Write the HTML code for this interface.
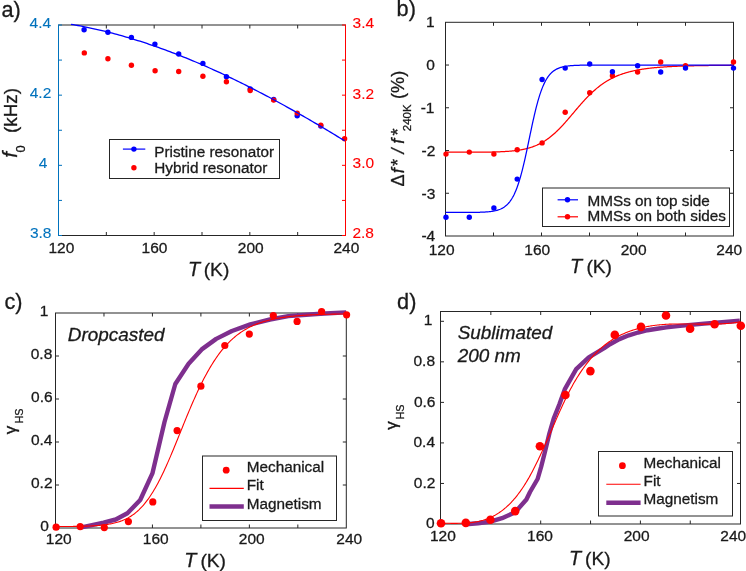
<!DOCTYPE html>
<html><head><meta charset="utf-8"><style>
html,body{margin:0;padding:0;background:#fff;overflow:hidden}
svg{display:block;font-family:"Liberation Sans",sans-serif;will-change:transform}
</style></head><body>
<svg width="746" height="571" viewBox="0 0 746 571">
<rect width="746" height="571" fill="#fff"/>
<text x="1.38" y="16.50" font-size="21.7" text-anchor="start" fill="#1a1a1a" stroke="#1a1a1a" stroke-width="0.3" >a)</text>
<line x1="106.33" y1="235.50" x2="106.33" y2="232.00" stroke="#262626" stroke-width="1" />
<line x1="106.33" y1="25.00" x2="106.33" y2="28.50" stroke="#262626" stroke-width="1" />
<line x1="154.17" y1="235.50" x2="154.17" y2="232.00" stroke="#262626" stroke-width="1" />
<line x1="154.17" y1="25.00" x2="154.17" y2="28.50" stroke="#262626" stroke-width="1" />
<line x1="202.00" y1="235.50" x2="202.00" y2="232.00" stroke="#262626" stroke-width="1" />
<line x1="202.00" y1="25.00" x2="202.00" y2="28.50" stroke="#262626" stroke-width="1" />
<line x1="249.83" y1="235.50" x2="249.83" y2="232.00" stroke="#262626" stroke-width="1" />
<line x1="249.83" y1="25.00" x2="249.83" y2="28.50" stroke="#262626" stroke-width="1" />
<line x1="297.67" y1="235.50" x2="297.67" y2="232.00" stroke="#262626" stroke-width="1" />
<line x1="297.67" y1="25.00" x2="297.67" y2="28.50" stroke="#262626" stroke-width="1" />
<line x1="58.50" y1="25.00" x2="345.50" y2="25.00" stroke="#262626" stroke-width="1.0" />
<line x1="58.50" y1="235.50" x2="345.50" y2="235.50" stroke="#262626" stroke-width="1.0" />
<line x1="58.50" y1="235.50" x2="62.00" y2="235.50" stroke="#0072BD" stroke-width="1" />
<line x1="345.50" y1="235.50" x2="342.00" y2="235.50" stroke="#FF0000" stroke-width="1" />
<line x1="58.50" y1="200.42" x2="62.00" y2="200.42" stroke="#0072BD" stroke-width="1" />
<line x1="345.50" y1="200.42" x2="342.00" y2="200.42" stroke="#FF0000" stroke-width="1" />
<line x1="58.50" y1="165.33" x2="62.00" y2="165.33" stroke="#0072BD" stroke-width="1" />
<line x1="345.50" y1="165.33" x2="342.00" y2="165.33" stroke="#FF0000" stroke-width="1" />
<line x1="58.50" y1="130.25" x2="62.00" y2="130.25" stroke="#0072BD" stroke-width="1" />
<line x1="345.50" y1="130.25" x2="342.00" y2="130.25" stroke="#FF0000" stroke-width="1" />
<line x1="58.50" y1="95.17" x2="62.00" y2="95.17" stroke="#0072BD" stroke-width="1" />
<line x1="345.50" y1="95.17" x2="342.00" y2="95.17" stroke="#FF0000" stroke-width="1" />
<line x1="58.50" y1="60.08" x2="62.00" y2="60.08" stroke="#0072BD" stroke-width="1" />
<line x1="345.50" y1="60.08" x2="342.00" y2="60.08" stroke="#FF0000" stroke-width="1" />
<line x1="58.50" y1="25.00" x2="62.00" y2="25.00" stroke="#0072BD" stroke-width="1" />
<line x1="345.50" y1="25.00" x2="342.00" y2="25.00" stroke="#FF0000" stroke-width="1" />
<line x1="58.50" y1="24.50" x2="58.50" y2="236.00" stroke="#0072BD" stroke-width="1.0" />
<line x1="345.50" y1="24.50" x2="345.50" y2="236.00" stroke="#FF0000" stroke-width="1.0" />
<text x="51.15" y="27.80" font-size="15.5" text-anchor="end" fill="#0072BD" stroke="#0072BD" stroke-width="0.1" >4.4</text>
<text x="51.28" y="98.00" font-size="15.5" text-anchor="end" fill="#0072BD" stroke="#0072BD" stroke-width="0.1" >4.2</text>
<text x="47.45" y="168.00" font-size="15.5" text-anchor="end" fill="#0072BD" stroke="#0072BD" stroke-width="0.1" >4</text>
<text x="51.47" y="238.40" font-size="15.5" text-anchor="end" fill="#0072BD" stroke="#0072BD" stroke-width="0.1" >3.8</text>
<text x="352.61" y="28.00" font-size="15.5" text-anchor="start" fill="#FF0000" stroke="#FF0000" stroke-width="0.1" >3.4</text>
<text x="352.61" y="98.50" font-size="15.5" text-anchor="start" fill="#FF0000" stroke="#FF0000" stroke-width="0.1" >3.2</text>
<text x="352.61" y="168.20" font-size="15.5" text-anchor="start" fill="#FF0000" stroke="#FF0000" stroke-width="0.1" >3.0</text>
<text x="352.42" y="238.40" font-size="15.5" text-anchor="start" fill="#FF0000" stroke="#FF0000" stroke-width="0.1" >2.8</text>
<text x="61.41" y="253.30" font-size="15.5" text-anchor="middle" fill="#1a1a1a" stroke="#1a1a1a" stroke-width="0.3" >120</text>
<text x="154.51" y="253.30" font-size="15.5" text-anchor="middle" fill="#1a1a1a" stroke="#1a1a1a" stroke-width="0.3" >160</text>
<text x="250.71" y="253.30" font-size="15.5" text-anchor="middle" fill="#1a1a1a" stroke="#1a1a1a" stroke-width="0.3" >200</text>
<text x="346.41" y="253.30" font-size="15.5" text-anchor="middle" fill="#1a1a1a" stroke="#1a1a1a" stroke-width="0.3" >240</text>
<text x="187.92" y="275.90" font-size="19.8" text-anchor="start" fill="#1a1a1a" stroke="#1a1a1a" stroke-width="0.3" font-style="italic" >T</text>
<text x="203.71" y="275.90" font-size="19.2" text-anchor="start" fill="#1a1a1a" stroke="#1a1a1a" stroke-width="0.3" >(K)</text>
<text transform="translate(16.60,157.81) rotate(-90)" x="0" y="0" font-size="21" fill="#1a1a1a" stroke="#1a1a1a" stroke-width="0.3" font-style="italic">f</text>
<text transform="translate(24.70,152.61) rotate(-90)" x="0" y="0" font-size="13" fill="#1a1a1a" stroke="#1a1a1a" stroke-width="0.3">0</text>
<text transform="translate(16.80,133.07) rotate(-90)" x="0" y="0" font-size="18.9" fill="#1a1a1a" stroke="#1a1a1a" stroke-width="0.3">(kHz)</text>
<circle cx="84.10" cy="29.70" r="2.7" fill="#0000FF"/>
<circle cx="107.90" cy="32.20" r="2.7" fill="#0000FF"/>
<circle cx="131.40" cy="37.40" r="2.7" fill="#0000FF"/>
<circle cx="154.90" cy="44.10" r="2.7" fill="#0000FF"/>
<circle cx="178.70" cy="54.00" r="2.7" fill="#0000FF"/>
<circle cx="202.90" cy="63.40" r="2.7" fill="#0000FF"/>
<circle cx="226.40" cy="76.70" r="2.7" fill="#0000FF"/>
<circle cx="250.20" cy="89.00" r="2.7" fill="#0000FF"/>
<circle cx="273.70" cy="99.50" r="2.7" fill="#0000FF"/>
<circle cx="297.20" cy="115.80" r="2.7" fill="#0000FF"/>
<circle cx="320.80" cy="126.00" r="2.7" fill="#0000FF"/>
<circle cx="84.30" cy="52.90" r="2.7" fill="#FF0000"/>
<circle cx="107.90" cy="58.80" r="2.7" fill="#FF0000"/>
<circle cx="131.40" cy="65.20" r="2.7" fill="#FF0000"/>
<circle cx="155.10" cy="70.70" r="2.7" fill="#FF0000"/>
<circle cx="178.70" cy="71.50" r="2.7" fill="#FF0000"/>
<circle cx="202.90" cy="76.30" r="2.7" fill="#FF0000"/>
<circle cx="226.40" cy="81.80" r="2.7" fill="#FF0000"/>
<circle cx="250.20" cy="90.50" r="2.7" fill="#FF0000"/>
<circle cx="273.70" cy="100.10" r="2.7" fill="#FF0000"/>
<circle cx="297.20" cy="113.10" r="2.7" fill="#FF0000"/>
<circle cx="320.80" cy="125.10" r="2.7" fill="#FF0000"/>
<circle cx="344.60" cy="138.80" r="2.7" fill="#FF0000"/>
<polyline points="71.00,24.29 73.30,24.69 75.60,25.09 77.90,25.51 80.20,25.94 82.50,26.38 84.79,26.83 87.09,27.30 89.39,27.78 91.69,28.27 93.99,28.77 96.29,29.28 98.59,29.81 100.89,30.35 103.19,30.90 105.49,31.46 107.79,32.03 110.09,32.62 112.38,33.21 114.68,33.82 116.98,34.44 119.28,35.07 121.58,35.71 123.88,36.36 126.18,37.03 128.48,37.70 130.78,38.39 133.08,39.08 135.38,39.79 137.68,40.51 139.97,41.24 142.27,41.98 144.57,42.73 146.87,43.49 149.17,44.26 151.47,45.04 153.77,45.83 156.07,46.63 158.37,47.45 160.67,48.27 162.97,49.10 165.27,49.94 167.56,50.79 169.86,51.66 172.16,52.53 174.46,53.41 176.76,54.30 179.06,55.20 181.36,56.11 183.66,57.03 185.96,57.96 188.26,58.89 190.56,59.84 192.86,60.80 195.15,61.76 197.45,62.74 199.75,63.72 202.05,64.71 204.35,65.71 206.65,66.72 208.95,67.74 211.25,68.77 213.55,69.80 215.85,70.85 218.15,71.90 220.45,72.96 222.74,74.03 225.04,75.11 227.34,76.19 229.64,77.29 231.94,78.39 234.24,79.50 236.54,80.61 238.84,81.74 241.14,82.87 243.44,84.01 245.74,85.16 248.04,86.32 250.33,87.48 252.63,88.65 254.93,89.83 257.23,91.01 259.53,92.21 261.83,93.41 264.13,94.61 266.43,95.83 268.73,97.05 271.03,98.28 273.33,99.51 275.63,100.75 277.92,102.00 280.22,103.25 282.52,104.51 284.82,105.78 287.12,107.06 289.42,108.34 291.72,109.62 294.02,110.92 296.32,112.21 298.62,113.52 300.92,114.83 303.22,116.15 305.51,117.47 307.81,118.80 310.11,120.13 312.41,121.47 314.71,122.82 317.01,124.17 319.31,125.53 321.61,126.89 323.91,128.26 326.21,129.63 328.51,131.01 330.81,132.39 333.10,133.78 335.40,135.17 337.70,136.57 340.00,137.97 342.30,139.38 344.60,140.79" fill="none" stroke="#0000FF" stroke-width="1.3" stroke-linejoin="round" stroke-linecap="butt" />
<rect x="109.5" y="139.5" width="170" height="39" fill="#fff" stroke="#262626" stroke-width="1"/>
<line x1="122.90" y1="149.10" x2="145.30" y2="149.10" stroke="#0000FF" stroke-width="1.2" />
<circle cx="133.90" cy="149.10" r="2.7" fill="#0000FF"/>
<circle cx="133.90" cy="167.70" r="2.7" fill="#FF0000"/>
<text x="154.24" y="156.70" font-size="15.3" text-anchor="start" fill="#1a1a1a" stroke="#1a1a1a" stroke-width="0.3" >Pristine resonator</text>
<text x="154.24" y="172.50" font-size="15.3" text-anchor="start" fill="#1a1a1a" stroke="#1a1a1a" stroke-width="0.3" >Hybrid resonator</text>
<text x="396.60" y="16.10" font-size="21.7" text-anchor="start" fill="#1a1a1a" stroke="#1a1a1a" stroke-width="0.3" >b)</text>
<line x1="493.50" y1="236.00" x2="493.50" y2="232.50" stroke="#262626" stroke-width="1" />
<line x1="493.50" y1="22.30" x2="493.50" y2="25.80" stroke="#262626" stroke-width="1" />
<line x1="541.50" y1="236.00" x2="541.50" y2="232.50" stroke="#262626" stroke-width="1" />
<line x1="541.50" y1="22.30" x2="541.50" y2="25.80" stroke="#262626" stroke-width="1" />
<line x1="589.50" y1="236.00" x2="589.50" y2="232.50" stroke="#262626" stroke-width="1" />
<line x1="589.50" y1="22.30" x2="589.50" y2="25.80" stroke="#262626" stroke-width="1" />
<line x1="637.50" y1="236.00" x2="637.50" y2="232.50" stroke="#262626" stroke-width="1" />
<line x1="637.50" y1="22.30" x2="637.50" y2="25.80" stroke="#262626" stroke-width="1" />
<line x1="685.50" y1="236.00" x2="685.50" y2="232.50" stroke="#262626" stroke-width="1" />
<line x1="685.50" y1="22.30" x2="685.50" y2="25.80" stroke="#262626" stroke-width="1" />
<line x1="445.50" y1="65.04" x2="449.00" y2="65.04" stroke="#262626" stroke-width="1" />
<line x1="733.50" y1="65.04" x2="730.00" y2="65.04" stroke="#262626" stroke-width="1" />
<line x1="445.50" y1="107.78" x2="449.00" y2="107.78" stroke="#262626" stroke-width="1" />
<line x1="733.50" y1="107.78" x2="730.00" y2="107.78" stroke="#262626" stroke-width="1" />
<line x1="445.50" y1="150.52" x2="449.00" y2="150.52" stroke="#262626" stroke-width="1" />
<line x1="733.50" y1="150.52" x2="730.00" y2="150.52" stroke="#262626" stroke-width="1" />
<line x1="445.50" y1="193.26" x2="449.00" y2="193.26" stroke="#262626" stroke-width="1" />
<line x1="733.50" y1="193.26" x2="730.00" y2="193.26" stroke="#262626" stroke-width="1" />
<rect x="445.5" y="22.3" width="288.00" height="213.70" fill="none" stroke="#262626" stroke-width="1.0"/>
<text x="430.19" y="27.00" font-size="15.5" text-anchor="middle" fill="#1a1a1a" stroke="#1a1a1a" stroke-width="0.3" >1</text>
<text x="430.45" y="69.50" font-size="15.5" text-anchor="middle" fill="#1a1a1a" stroke="#1a1a1a" stroke-width="0.3" >0</text>
<text x="427.53" y="112.50" font-size="15.5" text-anchor="middle" fill="#1a1a1a" stroke="#1a1a1a" stroke-width="0.3" >-1</text>
<text x="428.45" y="156.00" font-size="15.5" text-anchor="middle" fill="#1a1a1a" stroke="#1a1a1a" stroke-width="0.3" >-2</text>
<text x="428.40" y="198.80" font-size="15.5" text-anchor="middle" fill="#1a1a1a" stroke="#1a1a1a" stroke-width="0.3" >-3</text>
<text x="428.28" y="241.00" font-size="15.5" text-anchor="middle" fill="#1a1a1a" stroke="#1a1a1a" stroke-width="0.3" >-4</text>
<text x="441.61" y="254.80" font-size="15.5" text-anchor="middle" fill="#1a1a1a" stroke="#1a1a1a" stroke-width="0.3" >120</text>
<text x="537.31" y="254.80" font-size="15.5" text-anchor="middle" fill="#1a1a1a" stroke="#1a1a1a" stroke-width="0.3" >160</text>
<text x="633.61" y="254.80" font-size="15.5" text-anchor="middle" fill="#1a1a1a" stroke="#1a1a1a" stroke-width="0.3" >200</text>
<text x="729.31" y="254.80" font-size="15.5" text-anchor="middle" fill="#1a1a1a" stroke="#1a1a1a" stroke-width="0.3" >240</text>
<text x="570.12" y="273.20" font-size="19.8" text-anchor="start" fill="#1a1a1a" stroke="#1a1a1a" stroke-width="0.3" font-style="italic" >T</text>
<text x="586.41" y="273.20" font-size="19.2" text-anchor="start" fill="#1a1a1a" stroke="#1a1a1a" stroke-width="0.3" >(K)</text>
<text transform="translate(404.00,186.54) rotate(-90)" x="0" y="0" font-size="18.2" fill="#1a1a1a" stroke="#1a1a1a" stroke-width="0.3">Δ</text>
<text transform="translate(404.00,173.21) rotate(-90)" x="0" y="0" font-size="18.2" fill="#1a1a1a" stroke="#1a1a1a" stroke-width="0.3" font-style="italic">f</text>
<text transform="translate(404.00,166.09) rotate(-90)" x="0" y="0" font-size="18.2" fill="#1a1a1a" stroke="#1a1a1a" stroke-width="0.3">*</text>
<text transform="translate(404.20,153.57) rotate(-90)" x="0" y="0" font-size="18.2" fill="#1a1a1a" stroke="#1a1a1a" stroke-width="0.3" font-style="italic">/</text>
<text transform="translate(404.00,143.81) rotate(-90)" x="0" y="0" font-size="18.2" fill="#1a1a1a" stroke="#1a1a1a" stroke-width="0.3" font-style="italic">f</text>
<text transform="translate(404.00,135.49) rotate(-90)" x="0" y="0" font-size="18.2" fill="#1a1a1a" stroke="#1a1a1a" stroke-width="0.3">*</text>
<text transform="translate(410.50,131.18) rotate(-90)" x="0" y="0" font-size="11.5" fill="#1a1a1a" stroke="#1a1a1a" stroke-width="0.3">240K</text>
<text transform="translate(404.00,98.92) rotate(-90)" x="0" y="0" font-size="18.1" fill="#1a1a1a" stroke="#1a1a1a" stroke-width="0.3">(%)</text>
<polyline points="445.50,152.23 446.10,152.23 446.70,152.23 447.30,152.23 447.90,152.23 448.50,152.23 449.10,152.23 449.70,152.23 450.30,152.23 450.90,152.23 451.50,152.23 452.10,152.23 452.70,152.23 453.30,152.23 453.90,152.23 454.50,152.22 455.10,152.22 455.70,152.22 456.30,152.22 456.90,152.22 457.50,152.22 458.10,152.22 458.70,152.22 459.30,152.22 459.90,152.22 460.50,152.22 461.10,152.22 461.70,152.22 462.30,152.22 462.90,152.22 463.50,152.22 464.10,152.22 464.70,152.21 465.30,152.21 465.90,152.21 466.50,152.21 467.10,152.21 467.70,152.21 468.30,152.21 468.90,152.21 469.50,152.20 470.10,152.20 470.70,152.20 471.30,152.20 471.90,152.20 472.50,152.19 473.10,152.19 473.70,152.19 474.30,152.19 474.90,152.19 475.50,152.18 476.10,152.18 476.70,152.18 477.30,152.17 477.90,152.17 478.50,152.17 479.10,152.16 479.70,152.16 480.30,152.15 480.90,152.15 481.50,152.14 482.10,152.14 482.70,152.13 483.30,152.13 483.90,152.12 484.50,152.11 485.10,152.11 485.70,152.10 486.30,152.09 486.90,152.09 487.50,152.08 488.10,152.07 488.70,152.06 489.30,152.05 489.90,152.04 490.50,152.03 491.10,152.02 491.70,152.01 492.30,151.99 492.90,151.98 493.50,151.97 494.10,151.95 494.70,151.94 495.30,151.92 495.90,151.90 496.50,151.89 497.10,151.87 497.70,151.85 498.30,151.83 498.90,151.81 499.50,151.78 500.10,151.76 500.70,151.74 501.30,151.71 501.90,151.68 502.50,151.66 503.10,151.63 503.70,151.60 504.30,151.56 504.90,151.53 505.50,151.49 506.10,151.46 506.70,151.42 507.30,151.38 507.90,151.34 508.50,151.29 509.10,151.25 509.70,151.20 510.30,151.15 510.90,151.10 511.50,151.04 512.10,150.98 512.70,150.93 513.30,150.86 513.90,150.80 514.50,150.73 515.10,150.66 515.70,150.59 516.30,150.51 516.90,150.43 517.50,150.35 518.10,150.26 518.70,150.17 519.30,150.08 519.90,149.99 520.50,149.88 521.10,149.78 521.70,149.67 522.30,149.56 522.90,149.44 523.50,149.32 524.10,149.19 524.70,149.06 525.30,148.93 525.90,148.79 526.50,148.64 527.10,148.49 527.70,148.33 528.30,148.17 528.90,148.00 529.50,147.82 530.10,147.64 530.70,147.46 531.30,147.26 531.90,147.06 532.50,146.86 533.10,146.64 533.70,146.42 534.30,146.19 534.90,145.96 535.50,145.71 536.10,145.46 536.70,145.21 537.30,144.94 537.90,144.66 538.50,144.38 539.10,144.09 539.70,143.79 540.30,143.48 540.90,143.16 541.50,142.84 542.10,142.50 542.70,142.16 543.30,141.80 543.90,141.44 544.50,141.07 545.10,140.69 545.70,140.29 546.30,139.89 546.90,139.48 547.50,139.06 548.10,138.63 548.70,138.19 549.30,137.74 549.90,137.28 550.50,136.80 551.10,136.32 551.70,135.83 552.30,135.33 552.90,134.82 553.50,134.30 554.10,133.78 554.70,133.24 555.30,132.69 555.90,132.13 556.50,131.57 557.10,130.99 557.70,130.41 558.30,129.82 558.90,129.21 559.50,128.61 560.10,127.99 560.70,127.37 561.30,126.73 561.90,126.09 562.50,125.45 563.10,124.80 563.70,124.14 564.30,123.47 564.90,122.80 565.50,122.13 566.10,121.45 566.70,120.76 567.30,120.07 567.90,119.38 568.50,118.68 569.10,117.98 569.70,117.28 570.30,116.58 570.90,115.87 571.50,115.16 572.10,114.45 572.70,113.74 573.30,113.03 573.90,112.32 574.50,111.61 575.10,110.90 575.70,110.19 576.30,109.48 576.90,108.78 577.50,108.07 578.10,107.37 578.70,106.67 579.30,105.98 579.90,105.29 580.50,104.60 581.10,103.92 581.70,103.24 582.30,102.57 582.90,101.90 583.50,101.23 584.10,100.58 584.70,99.92 585.30,99.28 585.90,98.64 586.50,98.01 587.10,97.38 587.70,96.76 588.30,96.15 588.90,95.54 589.50,94.95 590.10,94.35 590.70,93.77 591.30,93.20 591.90,92.63 592.50,92.07 593.10,91.52 593.70,90.98 594.30,90.44 594.90,89.91 595.50,89.40 596.10,88.89 596.70,88.38 597.30,87.89 597.90,87.40 598.50,86.93 599.10,86.46 599.70,86.00 600.30,85.54 600.90,85.10 601.50,84.66 602.10,84.24 602.70,83.82 603.30,83.40 603.90,83.00 604.50,82.60 605.10,82.21 605.70,81.83 606.30,81.46 606.90,81.09 607.50,80.73 608.10,80.38 608.70,80.04 609.30,79.70 609.90,79.37 610.50,79.05 611.10,78.73 611.70,78.42 612.30,78.12 612.90,77.82 613.50,77.53 614.10,77.25 614.70,76.97 615.30,76.70 615.90,76.44 616.50,76.18 617.10,75.92 617.70,75.68 618.30,75.43 618.90,75.20 619.50,74.97 620.10,74.74 620.70,74.52 621.30,74.30 621.90,74.09 622.50,73.88 623.10,73.68 623.70,73.49 624.30,73.29 624.90,73.11 625.50,72.92 626.10,72.74 626.70,72.57 627.30,72.40 627.90,72.23 628.50,72.07 629.10,71.91 629.70,71.75 630.30,71.60 630.90,71.45 631.50,71.31 632.10,71.17 632.70,71.03 633.30,70.90 633.90,70.76 634.50,70.64 635.10,70.51 635.70,70.39 636.30,70.27 636.90,70.15 637.50,70.04 638.10,69.93 638.70,69.82 639.30,69.71 639.90,69.61 640.50,69.51 641.10,69.41 641.70,69.31 642.30,69.22 642.90,69.13 643.50,69.04 644.10,68.95 644.70,68.86 645.30,68.78 645.90,68.70 646.50,68.62 647.10,68.54 647.70,68.47 648.30,68.39 648.90,68.32 649.50,68.25 650.10,68.18 650.70,68.11 651.30,68.05 651.90,67.98 652.50,67.92 653.10,67.86 653.70,67.80 654.30,67.74 654.90,67.68 655.50,67.63 656.10,67.57 656.70,67.52 657.30,67.47 657.90,67.41 658.50,67.36 659.10,67.32 659.70,67.27 660.30,67.22 660.90,67.18 661.50,67.13 662.10,67.09 662.70,67.05 663.30,67.01 663.90,66.97 664.50,66.93 665.10,66.89 665.70,66.85 666.30,66.81 666.90,66.78 667.50,66.74 668.10,66.71 668.70,66.67 669.30,66.64 669.90,66.61 670.50,66.58 671.10,66.55 671.70,66.52 672.30,66.49 672.90,66.46 673.50,66.43 674.10,66.40 674.70,66.38 675.30,66.35 675.90,66.32 676.50,66.30 677.10,66.27 677.70,66.25 678.30,66.23 678.90,66.20 679.50,66.18 680.10,66.16 680.70,66.14 681.30,66.12 681.90,66.09 682.50,66.07 683.10,66.05 683.70,66.03 684.30,66.02 684.90,66.00 685.50,65.98 686.10,65.96 686.70,65.94 687.30,65.93 687.90,65.91 688.50,65.89 689.10,65.88 689.70,65.86 690.30,65.85 690.90,65.83 691.50,65.82 692.10,65.80 692.70,65.79 693.30,65.77 693.90,65.76 694.50,65.75 695.10,65.74 695.70,65.72 696.30,65.71 696.90,65.70 697.50,65.69 698.10,65.67 698.70,65.66 699.30,65.65 699.90,65.64 700.50,65.63 701.10,65.62 701.70,65.61 702.30,65.60 702.90,65.59 703.50,65.58 704.10,65.57 704.70,65.56 705.30,65.55 705.90,65.54 706.50,65.53 707.10,65.52 707.70,65.52 708.30,65.51 708.90,65.50 709.50,65.49 710.10,65.48 710.70,65.48 711.30,65.47 711.90,65.46 712.50,65.45 713.10,65.45 713.70,65.44 714.30,65.43 714.90,65.43 715.50,65.42 716.10,65.41 716.70,65.41 717.30,65.40 717.90,65.40 718.50,65.39 719.10,65.38 719.70,65.38 720.30,65.37 720.90,65.37 721.50,65.36 722.10,65.36 722.70,65.35 723.30,65.35 723.90,65.34 724.50,65.34 725.10,65.33 725.70,65.33 726.30,65.32 726.90,65.32 727.50,65.31 728.10,65.31 728.70,65.30 729.30,65.30 729.90,65.30 730.50,65.29 731.10,65.29 731.70,65.28 732.30,65.28 732.90,65.28 733.50,65.27" fill="none" stroke="#FF0000" stroke-width="1.25" stroke-linejoin="round" stroke-linecap="butt" />
<polyline points="445.50,212.49 446.10,212.49 446.70,212.49 447.30,212.49 447.90,212.49 448.50,212.49 449.10,212.49 449.70,212.49 450.30,212.49 450.90,212.49 451.50,212.49 452.10,212.49 452.70,212.49 453.30,212.49 453.90,212.48 454.50,212.48 455.10,212.48 455.70,212.48 456.30,212.48 456.90,212.48 457.50,212.48 458.10,212.48 458.70,212.48 459.30,212.48 459.90,212.48 460.50,212.47 461.10,212.47 461.70,212.47 462.30,212.47 462.90,212.47 463.50,212.46 464.10,212.46 464.70,212.46 465.30,212.46 465.90,212.45 466.50,212.45 467.10,212.45 467.70,212.44 468.30,212.44 468.90,212.44 469.50,212.43 470.10,212.43 470.70,212.42 471.30,212.42 471.90,212.41 472.50,212.40 473.10,212.39 473.70,212.39 474.30,212.38 474.90,212.37 475.50,212.36 476.10,212.35 476.70,212.34 477.30,212.32 477.90,212.31 478.50,212.29 479.10,212.28 479.70,212.26 480.30,212.24 480.90,212.22 481.50,212.20 482.10,212.18 482.70,212.15 483.30,212.12 483.90,212.09 484.50,212.06 485.10,212.03 485.70,211.99 486.30,211.95 486.90,211.90 487.50,211.85 488.10,211.80 488.70,211.75 489.30,211.69 489.90,211.62 490.50,211.55 491.10,211.48 491.70,211.39 492.30,211.30 492.90,211.21 493.50,211.11 494.10,210.99 494.70,210.87 495.30,210.74 495.90,210.60 496.50,210.45 497.10,210.29 497.70,210.11 498.30,209.92 498.90,209.72 499.50,209.49 500.10,209.26 500.70,209.00 501.30,208.72 501.90,208.43 502.50,208.10 503.10,207.76 503.70,207.39 504.30,206.99 504.90,206.56 505.50,206.10 506.10,205.60 506.70,205.07 507.30,204.50 507.90,203.89 508.50,203.23 509.10,202.53 509.70,201.78 510.30,200.98 510.90,200.12 511.50,199.21 512.10,198.23 512.70,197.19 513.30,196.09 513.90,194.92 514.50,193.67 515.10,192.35 515.70,190.95 516.30,189.47 516.90,187.92 517.50,186.27 518.10,184.55 518.70,182.74 519.30,180.84 519.90,178.85 520.50,176.78 521.10,174.62 521.70,172.38 522.30,170.06 522.90,167.66 523.50,165.19 524.10,162.64 524.70,160.03 525.30,157.36 525.90,154.64 526.50,151.87 527.10,149.07 527.70,146.23 528.30,143.37 528.90,140.49 529.50,137.61 530.10,134.74 530.70,131.87 531.30,129.03 531.90,126.22 532.50,123.44 533.10,120.71 533.70,118.03 534.30,115.41 534.90,112.85 535.50,110.36 536.10,107.95 536.70,105.61 537.30,103.35 537.90,101.18 538.50,99.09 539.10,97.09 539.70,95.17 540.30,93.34 540.90,91.60 541.50,89.94 542.10,88.36 542.70,86.87 543.30,85.46 543.90,84.12 544.50,82.86 545.10,81.67 545.70,80.55 546.30,79.50 546.90,78.51 547.50,77.59 548.10,76.72 548.70,75.91 549.30,75.15 549.90,74.43 550.50,73.77 551.10,73.15 551.70,72.57 552.30,72.03 552.90,71.53 553.50,71.06 554.10,70.63 554.70,70.22 555.30,69.85 555.90,69.50 556.50,69.17 557.10,68.87 557.70,68.59 558.30,68.33 558.90,68.08 559.50,67.86 560.10,67.65 560.70,67.46 561.30,67.28 561.90,67.11 562.50,66.96 563.10,66.82 563.70,66.69 564.30,66.56 564.90,66.45 565.50,66.34 566.10,66.25 566.70,66.16 567.30,66.07 567.90,66.00 568.50,65.93 569.10,65.86 569.70,65.80 570.30,65.74 570.90,65.69 571.50,65.64 572.10,65.60 572.70,65.55 573.30,65.52 573.90,65.48 574.50,65.45 575.10,65.42 575.70,65.39 576.30,65.36 576.90,65.34 577.50,65.32 578.10,65.29 578.70,65.28 579.30,65.26 579.90,65.24 580.50,65.23 581.10,65.21 581.70,65.20 582.30,65.19 582.90,65.18 583.50,65.17 584.10,65.16 584.70,65.15 585.30,65.14 585.90,65.13 586.50,65.13 587.10,65.12 587.70,65.11 588.30,65.11 588.90,65.10 589.50,65.10 590.10,65.09 590.70,65.09 591.30,65.09 591.90,65.08 592.50,65.08 593.10,65.08 593.70,65.07 594.30,65.07 594.90,65.07 595.50,65.07 596.10,65.06 596.70,65.06 597.30,65.06 597.90,65.06 598.50,65.06 599.10,65.06 599.70,65.06 600.30,65.05 600.90,65.05 601.50,65.05 602.10,65.05 602.70,65.05 603.30,65.05 603.90,65.05 604.50,65.05 605.10,65.05 605.70,65.05 606.30,65.05 606.90,65.05 607.50,65.05 608.10,65.05 608.70,65.04 609.30,65.04 609.90,65.04 610.50,65.04 611.10,65.04 611.70,65.04 612.30,65.04 612.90,65.04 613.50,65.04 614.10,65.04 614.70,65.04 615.30,65.04 615.90,65.04 616.50,65.04 617.10,65.04 617.70,65.04 618.30,65.04 618.90,65.04 619.50,65.04 620.10,65.04 620.70,65.04 621.30,65.04 621.90,65.04 622.50,65.04 623.10,65.04 623.70,65.04 624.30,65.04 624.90,65.04 625.50,65.04 626.10,65.04 626.70,65.04 627.30,65.04 627.90,65.04 628.50,65.04 629.10,65.04 629.70,65.04 630.30,65.04 630.90,65.04 631.50,65.04 632.10,65.04 632.70,65.04 633.30,65.04 633.90,65.04 634.50,65.04 635.10,65.04 635.70,65.04 636.30,65.04 636.90,65.04 637.50,65.04 638.10,65.04 638.70,65.04 639.30,65.04 639.90,65.04 640.50,65.04 641.10,65.04 641.70,65.04 642.30,65.04 642.90,65.04 643.50,65.04 644.10,65.04 644.70,65.04 645.30,65.04 645.90,65.04 646.50,65.04 647.10,65.04 647.70,65.04 648.30,65.04 648.90,65.04 649.50,65.04 650.10,65.04 650.70,65.04 651.30,65.04 651.90,65.04 652.50,65.04 653.10,65.04 653.70,65.04 654.30,65.04 654.90,65.04 655.50,65.04 656.10,65.04 656.70,65.04 657.30,65.04 657.90,65.04 658.50,65.04 659.10,65.04 659.70,65.04 660.30,65.04 660.90,65.04 661.50,65.04 662.10,65.04 662.70,65.04 663.30,65.04 663.90,65.04 664.50,65.04 665.10,65.04 665.70,65.04 666.30,65.04 666.90,65.04 667.50,65.04 668.10,65.04 668.70,65.04 669.30,65.04 669.90,65.04 670.50,65.04 671.10,65.04 671.70,65.04 672.30,65.04 672.90,65.04 673.50,65.04 674.10,65.04 674.70,65.04 675.30,65.04 675.90,65.04 676.50,65.04 677.10,65.04 677.70,65.04 678.30,65.04 678.90,65.04 679.50,65.04 680.10,65.04 680.70,65.04 681.30,65.04 681.90,65.04 682.50,65.04 683.10,65.04 683.70,65.04 684.30,65.04 684.90,65.04 685.50,65.04 686.10,65.04 686.70,65.04 687.30,65.04 687.90,65.04 688.50,65.04 689.10,65.04 689.70,65.04 690.30,65.04 690.90,65.04 691.50,65.04 692.10,65.04 692.70,65.04 693.30,65.04 693.90,65.04 694.50,65.04 695.10,65.04 695.70,65.04 696.30,65.04 696.90,65.04 697.50,65.04 698.10,65.04 698.70,65.04 699.30,65.04 699.90,65.04 700.50,65.04 701.10,65.04 701.70,65.04 702.30,65.04 702.90,65.04 703.50,65.04 704.10,65.04 704.70,65.04 705.30,65.04 705.90,65.04 706.50,65.04 707.10,65.04 707.70,65.04 708.30,65.04 708.90,65.04 709.50,65.04 710.10,65.04 710.70,65.04 711.30,65.04 711.90,65.04 712.50,65.04 713.10,65.04 713.70,65.04 714.30,65.04 714.90,65.04 715.50,65.04 716.10,65.04 716.70,65.04 717.30,65.04 717.90,65.04 718.50,65.04 719.10,65.04 719.70,65.04 720.30,65.04 720.90,65.04 721.50,65.04 722.10,65.04 722.70,65.04 723.30,65.04 723.90,65.04 724.50,65.04 725.10,65.04 725.70,65.04 726.30,65.04 726.90,65.04 727.50,65.04 728.10,65.04 728.70,65.04 729.30,65.04 729.90,65.04 730.50,65.04 731.10,65.04 731.70,65.04 732.30,65.04 732.90,65.04 733.50,65.04" fill="none" stroke="#0000FF" stroke-width="1.25" stroke-linejoin="round" stroke-linecap="butt" />
<circle cx="446.00" cy="154.10" r="2.7" fill="#FF0000"/>
<circle cx="469.30" cy="152.10" r="2.7" fill="#FF0000"/>
<circle cx="493.90" cy="154.10" r="2.7" fill="#FF0000"/>
<circle cx="517.20" cy="149.80" r="2.7" fill="#FF0000"/>
<circle cx="542.10" cy="142.90" r="2.7" fill="#FF0000"/>
<circle cx="565.20" cy="112.30" r="2.7" fill="#FF0000"/>
<circle cx="589.70" cy="92.80" r="2.7" fill="#FF0000"/>
<circle cx="612.40" cy="75.70" r="2.7" fill="#FF0000"/>
<circle cx="637.60" cy="72.10" r="2.7" fill="#FF0000"/>
<circle cx="660.70" cy="62.00" r="2.7" fill="#FF0000"/>
<circle cx="685.50" cy="65.60" r="2.7" fill="#FF0000"/>
<circle cx="733.50" cy="62.00" r="2.7" fill="#FF0000"/>
<circle cx="446.00" cy="217.30" r="2.7" fill="#0000FF"/>
<circle cx="469.30" cy="217.30" r="2.7" fill="#0000FF"/>
<circle cx="493.90" cy="208.00" r="2.7" fill="#0000FF"/>
<circle cx="517.20" cy="179.10" r="2.7" fill="#0000FF"/>
<circle cx="542.10" cy="79.50" r="2.7" fill="#0000FF"/>
<circle cx="565.20" cy="68.10" r="2.7" fill="#0000FF"/>
<circle cx="589.70" cy="64.00" r="2.7" fill="#0000FF"/>
<circle cx="612.40" cy="71.70" r="2.7" fill="#0000FF"/>
<circle cx="637.60" cy="65.70" r="2.7" fill="#0000FF"/>
<circle cx="660.70" cy="72.00" r="2.7" fill="#0000FF"/>
<circle cx="685.50" cy="68.00" r="2.7" fill="#0000FF"/>
<circle cx="733.50" cy="68.10" r="2.7" fill="#0000FF"/>
<rect x="542.5" y="188.0" width="187" height="38.5" fill="#fff" stroke="#262626" stroke-width="1"/>
<line x1="557.60" y1="199.80" x2="578.00" y2="199.80" stroke="#0000FF" stroke-width="1.2" />
<circle cx="567.50" cy="199.80" r="2.7" fill="#0000FF"/>
<line x1="557.60" y1="216.80" x2="578.00" y2="216.80" stroke="#FF0000" stroke-width="1.2" />
<circle cx="567.50" cy="216.80" r="2.7" fill="#FF0000"/>
<text x="587.44" y="205.50" font-size="15.3" text-anchor="start" fill="#1a1a1a" stroke="#1a1a1a" stroke-width="0.3" >MMSs on top side</text>
<text x="587.44" y="221.00" font-size="15.3" text-anchor="start" fill="#1a1a1a" stroke="#1a1a1a" stroke-width="0.3" >MMSs on both sides</text>
<text x="4.38" y="308.80" font-size="21.7" text-anchor="start" fill="#1a1a1a" stroke="#1a1a1a" stroke-width="0.3" >c)</text>
<line x1="103.97" y1="528.00" x2="103.97" y2="524.50" stroke="#262626" stroke-width="1" />
<line x1="103.97" y1="313.00" x2="103.97" y2="316.50" stroke="#262626" stroke-width="1" />
<line x1="152.43" y1="528.00" x2="152.43" y2="524.50" stroke="#262626" stroke-width="1" />
<line x1="152.43" y1="313.00" x2="152.43" y2="316.50" stroke="#262626" stroke-width="1" />
<line x1="200.90" y1="528.00" x2="200.90" y2="524.50" stroke="#262626" stroke-width="1" />
<line x1="200.90" y1="313.00" x2="200.90" y2="316.50" stroke="#262626" stroke-width="1" />
<line x1="249.37" y1="528.00" x2="249.37" y2="524.50" stroke="#262626" stroke-width="1" />
<line x1="249.37" y1="313.00" x2="249.37" y2="316.50" stroke="#262626" stroke-width="1" />
<line x1="297.83" y1="528.00" x2="297.83" y2="524.50" stroke="#262626" stroke-width="1" />
<line x1="297.83" y1="313.00" x2="297.83" y2="316.50" stroke="#262626" stroke-width="1" />
<line x1="55.50" y1="485.00" x2="59.00" y2="485.00" stroke="#262626" stroke-width="1" />
<line x1="346.30" y1="485.00" x2="342.80" y2="485.00" stroke="#262626" stroke-width="1" />
<line x1="55.50" y1="442.00" x2="59.00" y2="442.00" stroke="#262626" stroke-width="1" />
<line x1="346.30" y1="442.00" x2="342.80" y2="442.00" stroke="#262626" stroke-width="1" />
<line x1="55.50" y1="399.00" x2="59.00" y2="399.00" stroke="#262626" stroke-width="1" />
<line x1="346.30" y1="399.00" x2="342.80" y2="399.00" stroke="#262626" stroke-width="1" />
<line x1="55.50" y1="356.00" x2="59.00" y2="356.00" stroke="#262626" stroke-width="1" />
<line x1="346.30" y1="356.00" x2="342.80" y2="356.00" stroke="#262626" stroke-width="1" />
<rect x="55.5" y="313.0" width="290.80" height="215.00" fill="none" stroke="#262626" stroke-width="1.0"/>
<text x="43.94" y="315.80" font-size="15.5" text-anchor="middle" fill="#1a1a1a" stroke="#1a1a1a" stroke-width="0.3" >1</text>
<text x="41.53" y="359.00" font-size="15.5" text-anchor="middle" fill="#1a1a1a" stroke="#1a1a1a" stroke-width="0.3" >0.8</text>
<text x="41.84" y="402.10" font-size="15.5" text-anchor="middle" fill="#1a1a1a" stroke="#1a1a1a" stroke-width="0.3" >0.6</text>
<text x="41.72" y="445.20" font-size="15.5" text-anchor="middle" fill="#1a1a1a" stroke="#1a1a1a" stroke-width="0.3" >0.4</text>
<text x="41.79" y="487.80" font-size="15.5" text-anchor="middle" fill="#1a1a1a" stroke="#1a1a1a" stroke-width="0.3" >0.2</text>
<text x="44.55" y="530.80" font-size="15.5" text-anchor="middle" fill="#1a1a1a" stroke="#1a1a1a" stroke-width="0.3" >0</text>
<text x="58.81" y="543.50" font-size="15.5" text-anchor="middle" fill="#1a1a1a" stroke="#1a1a1a" stroke-width="0.3" >120</text>
<text x="155.81" y="543.50" font-size="15.5" text-anchor="middle" fill="#1a1a1a" stroke="#1a1a1a" stroke-width="0.3" >160</text>
<text x="251.81" y="543.50" font-size="15.5" text-anchor="middle" fill="#1a1a1a" stroke="#1a1a1a" stroke-width="0.3" >200</text>
<text x="349.21" y="543.50" font-size="15.5" text-anchor="middle" fill="#1a1a1a" stroke="#1a1a1a" stroke-width="0.3" >240</text>
<text x="184.22" y="566.60" font-size="19.8" text-anchor="start" fill="#1a1a1a" stroke="#1a1a1a" stroke-width="0.3" font-style="italic" >T</text>
<text x="200.41" y="566.60" font-size="19.2" text-anchor="start" fill="#1a1a1a" stroke="#1a1a1a" stroke-width="0.3" >(K)</text>
<text transform="translate(16.40,434.16) rotate(-90)" x="0" y="0" font-size="17" fill="#1a1a1a" stroke="#1a1a1a" stroke-width="0.3">γ</text>
<text transform="translate(22.60,423.49) rotate(-90)" x="0" y="0" font-size="10.8" fill="#1a1a1a" stroke="#1a1a1a" stroke-width="0.3">HS</text>
<text x="67.82" y="340.60" font-size="18.9" text-anchor="start" fill="#1a1a1a" stroke="#1a1a1a" stroke-width="0.3" font-style="italic" >Dropcasted</text>
<polyline points="80.20,527.60 92.00,525.20 103.60,522.60 115.70,519.50 127.40,513.30 140.20,500.00 152.40,473.40 164.50,422.00 175.30,384.00 188.60,363.80 201.70,349.40 216.20,338.90 231.90,331.00 250.30,324.40 270.00,319.50 288.30,316.10 320.40,313.70 346.20,312.40" fill="none" stroke="#7E2F8E" stroke-width="4.4" stroke-linejoin="round" stroke-linecap="butt" />
<polyline points="56.10,526.54 57.07,526.54 58.04,526.53 59.01,526.53 59.98,526.53 60.95,526.52 61.93,526.52 62.90,526.51 63.87,526.51 64.84,526.50 65.81,526.49 66.78,526.48 67.75,526.48 68.72,526.47 69.69,526.46 70.66,526.45 71.63,526.44 72.61,526.43 73.58,526.41 74.55,526.40 75.52,526.39 76.49,526.37 77.46,526.35 78.43,526.34 79.40,526.32 80.37,526.30 81.34,526.27 82.31,526.25 83.29,526.23 84.26,526.20 85.23,526.17 86.20,526.14 87.17,526.10 88.14,526.06 89.11,526.02 90.08,525.98 91.05,525.94 92.02,525.89 92.99,525.83 93.97,525.78 94.94,525.72 95.91,525.65 96.88,525.58 97.85,525.51 98.82,525.43 99.79,525.34 100.76,525.25 101.73,525.15 102.70,525.05 103.67,524.94 104.65,524.82 105.62,524.69 106.59,524.55 107.56,524.41 108.53,524.25 109.50,524.08 110.47,523.91 111.44,523.72 112.41,523.51 113.38,523.30 114.35,523.07 115.33,522.83 116.30,522.57 117.27,522.29 118.24,522.00 119.21,521.69 120.18,521.36 121.15,521.01 122.12,520.64 123.09,520.25 124.06,519.84 125.03,519.40 126.01,518.93 126.98,518.44 127.95,517.93 128.92,517.38 129.89,516.81 130.86,516.20 131.83,515.56 132.80,514.89 133.77,514.19 134.74,513.45 135.71,512.67 136.68,511.86 137.66,511.01 138.63,510.12 139.60,509.18 140.57,508.21 141.54,507.20 142.51,506.14 143.48,505.03 144.45,503.88 145.42,502.69 146.39,501.45 147.36,500.16 148.34,498.83 149.31,497.45 150.28,496.02 151.25,494.54 152.22,493.02 153.19,491.45 154.16,489.83 155.13,488.16 156.10,486.45 157.07,484.69 158.04,482.89 159.02,481.04 159.99,479.15 160.96,477.21 161.93,475.24 162.90,473.23 163.87,471.17 164.84,469.08 165.81,466.96 166.78,464.80 167.75,462.61 168.72,460.39 169.70,458.14 170.67,455.87 171.64,453.57 172.61,451.26 173.58,448.92 174.55,446.57 175.52,444.20 176.49,441.83 177.46,439.44 178.43,437.04 179.40,434.64 180.38,432.24 181.35,429.84 182.32,427.44 183.29,425.05 184.26,422.66 185.23,420.28 186.20,417.91 187.17,415.56 188.14,413.22 189.11,410.89 190.08,408.59 191.06,406.31 192.03,404.04 193.00,401.81 193.97,399.60 194.94,397.41 195.91,395.25 196.88,393.12 197.85,391.02 198.82,388.96 199.79,386.92 200.76,384.92 201.74,382.95 202.71,381.02 203.68,379.12 204.65,377.26 205.62,375.43 206.59,373.64 207.56,371.89 208.53,370.17 209.50,368.49 210.47,366.85 211.44,365.24 212.42,363.67 213.39,362.14 214.36,360.64 215.33,359.18 216.30,357.76 217.27,356.37 218.24,355.02 219.21,353.70 220.18,352.42 221.15,351.17 222.12,349.96 223.10,348.78 224.07,347.63 225.04,346.51 226.01,345.43 226.98,344.37 227.95,343.35 228.92,342.36 229.89,341.40 230.86,340.46 231.83,339.56 232.80,338.68 233.78,337.82 234.75,337.00 235.72,336.20 236.69,335.42 237.66,334.67 238.63,333.94 239.60,333.24 240.57,332.56 241.54,331.90 242.51,331.26 243.48,330.64 244.46,330.05 245.43,329.47 246.40,328.91 247.37,328.37 248.34,327.85 249.31,327.35 250.28,326.86 251.25,326.39 252.22,325.93 253.19,325.49 254.16,325.07 255.14,324.66 256.11,324.26 257.08,323.88 258.05,323.51 259.02,323.15 259.99,322.81 260.96,322.48 261.93,322.16 262.90,321.85 263.87,321.55 264.84,321.26 265.82,320.99 266.79,320.72 267.76,320.46 268.73,320.21 269.70,319.97 270.67,319.74 271.64,319.51 272.61,319.30 273.58,319.09 274.55,318.89 275.52,318.70 276.49,318.51 277.47,318.33 278.44,318.16 279.41,317.99 280.38,317.83 281.35,317.67 282.32,317.52 283.29,317.38 284.26,317.24 285.23,317.11 286.20,316.98 287.17,316.85 288.15,316.73 289.12,316.62 290.09,316.51 291.06,316.40 292.03,316.30 293.00,316.20 293.97,316.10 294.94,316.01 295.91,315.92 296.88,315.83 297.85,315.75 298.83,315.67 299.80,315.60 300.77,315.52 301.74,315.45 302.71,315.38 303.68,315.32 304.65,315.25 305.62,315.19 306.59,315.13 307.56,315.07 308.53,315.02 309.51,314.97 310.48,314.92 311.45,314.87 312.42,314.82 313.39,314.78 314.36,314.73 315.33,314.69 316.30,314.65 317.27,314.61 318.24,314.57 319.21,314.54 320.19,314.50 321.16,314.47 322.13,314.44 323.10,314.40 324.07,314.37 325.04,314.35 326.01,314.32 326.98,314.29 327.95,314.27 328.92,314.24 329.89,314.22 330.87,314.19 331.84,314.17 332.81,314.15 333.78,314.13 334.75,314.11 335.72,314.09 336.69,314.07 337.66,314.05 338.63,314.04 339.60,314.02 340.57,314.01 341.55,313.99 342.52,313.98 343.49,313.96 344.46,313.95 345.43,313.93 346.40,313.92" fill="none" stroke="#FF0000" stroke-width="1.1" stroke-linejoin="round" stroke-linecap="butt" />
<circle cx="56.10" cy="527.20" r="3.6" fill="#FF0000"/>
<circle cx="80.20" cy="526.60" r="3.6" fill="#FF0000"/>
<circle cx="104.30" cy="527.60" r="3.6" fill="#FF0000"/>
<circle cx="128.40" cy="521.60" r="3.6" fill="#FF0000"/>
<circle cx="152.80" cy="501.90" r="3.6" fill="#FF0000"/>
<circle cx="177.10" cy="430.60" r="3.6" fill="#FF0000"/>
<circle cx="200.90" cy="386.20" r="3.6" fill="#FF0000"/>
<circle cx="224.80" cy="345.50" r="3.6" fill="#FF0000"/>
<circle cx="249.30" cy="334.10" r="3.6" fill="#FF0000"/>
<circle cx="273.30" cy="315.60" r="3.6" fill="#FF0000"/>
<circle cx="297.10" cy="321.40" r="3.6" fill="#FF0000"/>
<circle cx="321.60" cy="311.60" r="3.6" fill="#FF0000"/>
<circle cx="346.60" cy="314.80" r="3.6" fill="#FF0000"/>
<rect x="202.5" y="456.0" width="134" height="64.5" fill="#fff" stroke="#262626" stroke-width="1"/>
<circle cx="226.20" cy="470.20" r="3.4" fill="#FF0000"/>
<line x1="209.50" y1="488.40" x2="243.80" y2="488.40" stroke="#FF0000" stroke-width="1.1" />
<line x1="209.50" y1="506.50" x2="243.80" y2="506.50" stroke="#7E2F8E" stroke-width="4.4" />
<text x="246.74" y="472.40" font-size="15.3" text-anchor="start" fill="#1a1a1a" stroke="#1a1a1a" stroke-width="0.3" >Mechanical</text>
<text x="246.74" y="489.90" font-size="15.3" text-anchor="start" fill="#1a1a1a" stroke="#1a1a1a" stroke-width="0.3" >Fit</text>
<text x="246.74" y="509.20" font-size="15.3" text-anchor="start" fill="#1a1a1a" stroke="#1a1a1a" stroke-width="0.3" >Magnetism</text>
<text x="397.09" y="309.00" font-size="21.7" text-anchor="start" fill="#1a1a1a" stroke="#1a1a1a" stroke-width="0.3" >d)</text>
<line x1="490.85" y1="524.00" x2="490.85" y2="520.50" stroke="#262626" stroke-width="1" />
<line x1="490.85" y1="311.50" x2="490.85" y2="315.00" stroke="#262626" stroke-width="1" />
<line x1="540.70" y1="524.00" x2="540.70" y2="520.50" stroke="#262626" stroke-width="1" />
<line x1="540.70" y1="311.50" x2="540.70" y2="315.00" stroke="#262626" stroke-width="1" />
<line x1="590.55" y1="524.00" x2="590.55" y2="520.50" stroke="#262626" stroke-width="1" />
<line x1="590.55" y1="311.50" x2="590.55" y2="315.00" stroke="#262626" stroke-width="1" />
<line x1="640.40" y1="524.00" x2="640.40" y2="520.50" stroke="#262626" stroke-width="1" />
<line x1="640.40" y1="311.50" x2="640.40" y2="315.00" stroke="#262626" stroke-width="1" />
<line x1="690.25" y1="524.00" x2="690.25" y2="520.50" stroke="#262626" stroke-width="1" />
<line x1="690.25" y1="311.50" x2="690.25" y2="315.00" stroke="#262626" stroke-width="1" />
<line x1="440.50" y1="483.46" x2="444.00" y2="483.46" stroke="#262626" stroke-width="1" />
<line x1="740.50" y1="483.46" x2="737.00" y2="483.46" stroke="#262626" stroke-width="1" />
<line x1="440.50" y1="442.92" x2="444.00" y2="442.92" stroke="#262626" stroke-width="1" />
<line x1="740.50" y1="442.92" x2="737.00" y2="442.92" stroke="#262626" stroke-width="1" />
<line x1="440.50" y1="402.38" x2="444.00" y2="402.38" stroke="#262626" stroke-width="1" />
<line x1="740.50" y1="402.38" x2="737.00" y2="402.38" stroke="#262626" stroke-width="1" />
<line x1="440.50" y1="361.84" x2="444.00" y2="361.84" stroke="#262626" stroke-width="1" />
<line x1="740.50" y1="361.84" x2="737.00" y2="361.84" stroke="#262626" stroke-width="1" />
<line x1="440.50" y1="321.30" x2="444.00" y2="321.30" stroke="#262626" stroke-width="1" />
<line x1="740.50" y1="321.30" x2="737.00" y2="321.30" stroke="#262626" stroke-width="1" />
<rect x="440.5" y="311.5" width="300.00" height="212.50" fill="none" stroke="#262626" stroke-width="1.0"/>
<text x="432.46" y="325.40" font-size="15.5" text-anchor="end" fill="#1a1a1a" stroke="#1a1a1a" stroke-width="0.3" >1</text>
<text x="435.07" y="366.40" font-size="15.5" text-anchor="end" fill="#1a1a1a" stroke="#1a1a1a" stroke-width="0.3" >0.8</text>
<text x="435.48" y="406.50" font-size="15.5" text-anchor="end" fill="#1a1a1a" stroke="#1a1a1a" stroke-width="0.3" >0.6</text>
<text x="435.05" y="447.00" font-size="15.5" text-anchor="end" fill="#1a1a1a" stroke="#1a1a1a" stroke-width="0.3" >0.4</text>
<text x="435.38" y="487.50" font-size="15.5" text-anchor="end" fill="#1a1a1a" stroke="#1a1a1a" stroke-width="0.3" >0.2</text>
<text x="434.51" y="527.90" font-size="15.5" text-anchor="end" fill="#1a1a1a" stroke="#1a1a1a" stroke-width="0.3" >0</text>
<text x="442.91" y="541.30" font-size="15.5" text-anchor="middle" fill="#1a1a1a" stroke="#1a1a1a" stroke-width="0.3" >120</text>
<text x="540.01" y="541.30" font-size="15.5" text-anchor="middle" fill="#1a1a1a" stroke="#1a1a1a" stroke-width="0.3" >160</text>
<text x="636.61" y="541.30" font-size="15.5" text-anchor="middle" fill="#1a1a1a" stroke="#1a1a1a" stroke-width="0.3" >200</text>
<text x="733.21" y="541.30" font-size="15.5" text-anchor="middle" fill="#1a1a1a" stroke="#1a1a1a" stroke-width="0.3" >240</text>
<text x="569.02" y="564.90" font-size="19.8" text-anchor="start" fill="#1a1a1a" stroke="#1a1a1a" stroke-width="0.3" font-style="italic" >T</text>
<text x="585.01" y="564.90" font-size="19.2" text-anchor="start" fill="#1a1a1a" stroke="#1a1a1a" stroke-width="0.3" >(K)</text>
<text transform="translate(397.40,429.76) rotate(-90)" x="0" y="0" font-size="17" fill="#1a1a1a" stroke="#1a1a1a" stroke-width="0.3">γ</text>
<text transform="translate(404.40,419.49) rotate(-90)" x="0" y="0" font-size="10.8" fill="#1a1a1a" stroke="#1a1a1a" stroke-width="0.3">HS</text>
<text x="457.66" y="338.90" font-size="18.9" text-anchor="start" fill="#1a1a1a" stroke="#1a1a1a" stroke-width="0.3" font-style="italic" >Sublimated</text>
<text x="457.81" y="361.50" font-size="18.9" text-anchor="start" fill="#1a1a1a" stroke="#1a1a1a" stroke-width="0.3" font-style="italic" >200 nm</text>
<polyline points="465.80,524.20 478.00,523.30 490.40,521.60 502.00,518.20 515.20,512.20 526.40,499.50 530.00,492.00 537.60,479.00 541.10,467.00 544.60,453.20 549.50,433.00 553.70,418.50 559.40,404.20 565.00,388.80 576.20,369.20 588.80,357.30 604.20,348.20 610.00,344.20 619.40,339.10 628.80,335.30 638.10,332.50 647.50,330.20 656.90,328.80 666.30,327.40 680.00,325.90 704.10,323.60 739.80,320.80" fill="none" stroke="#7E2F8E" stroke-width="4.4" stroke-linejoin="round" stroke-linecap="butt" />
<polyline points="441.00,523.39 442.00,523.37 443.00,523.35 444.00,523.34 445.00,523.33 446.01,523.32 447.01,523.32 448.01,523.32 449.01,523.32 450.01,523.32 451.01,523.33 452.01,523.33 453.01,523.33 454.01,523.33 455.01,523.33 456.02,523.33 457.02,523.33 458.02,523.32 459.02,523.30 460.02,523.29 461.02,523.26 462.02,523.23 463.02,523.20 464.02,523.16 465.02,523.11 466.03,523.05 467.03,522.98 468.03,522.91 469.03,522.82 470.03,522.72 471.03,522.62 472.03,522.50 473.03,522.37 474.03,522.22 475.03,522.06 476.04,521.89 477.04,521.70 478.04,521.50 479.04,521.29 480.04,521.05 481.04,520.80 482.04,520.53 483.04,520.25 484.04,519.94 485.04,519.62 486.05,519.27 487.05,518.91 488.05,518.52 489.05,518.12 490.05,517.69 491.05,517.23 492.05,516.76 493.05,516.26 494.05,515.73 495.05,515.19 496.06,514.61 497.06,514.01 498.06,513.38 499.06,512.73 500.06,512.04 501.06,511.33 502.06,510.59 503.06,509.82 504.06,509.02 505.06,508.18 506.07,507.32 507.07,506.42 508.07,505.49 509.07,504.53 510.07,503.54 511.07,502.51 512.07,501.44 513.07,500.34 514.07,499.20 515.07,498.03 516.08,496.82 517.08,495.57 518.08,494.28 519.08,492.95 520.08,491.58 521.08,490.18 522.08,488.73 523.08,487.24 524.08,485.71 525.08,484.13 526.09,482.52 527.09,480.85 528.09,479.15 529.09,477.40 530.09,475.61 531.09,473.77 532.09,471.90 533.09,469.99 534.09,468.04 535.09,466.06 536.10,464.05 537.10,462.01 538.10,459.93 539.10,457.83 540.10,455.71 541.10,453.56 542.10,451.39 543.10,449.20 544.10,446.98 545.10,444.75 546.11,442.51 547.11,440.25 548.11,437.98 549.11,435.70 550.11,433.41 551.11,431.12 552.11,428.82 553.11,426.52 554.11,424.22 555.11,421.92 556.12,419.63 557.12,417.36 558.12,415.09 559.12,412.84 560.12,410.61 561.12,408.40 562.12,406.21 563.12,404.04 564.12,401.91 565.12,399.81 566.13,397.74 567.13,395.71 568.13,393.71 569.13,391.76 570.13,389.85 571.13,387.98 572.13,386.14 573.13,384.35 574.13,382.60 575.13,380.88 576.14,379.20 577.14,377.56 578.14,375.96 579.14,374.39 580.14,372.85 581.14,371.36 582.14,369.89 583.14,368.46 584.14,367.07 585.14,365.71 586.15,364.38 587.15,363.08 588.15,361.82 589.15,360.59 590.15,359.38 591.15,358.21 592.15,357.07 593.15,355.96 594.15,354.87 595.15,353.82 596.16,352.79 597.16,351.79 598.16,350.82 599.16,349.87 600.16,348.95 601.16,348.06 602.16,347.19 603.16,346.34 604.16,345.52 605.16,344.73 606.17,343.95 607.17,343.20 608.17,342.47 609.17,341.77 610.17,341.08 611.17,340.42 612.17,339.77 613.17,339.15 614.17,338.54 615.17,337.95 616.18,337.38 617.18,336.83 618.18,336.30 619.18,335.78 620.18,335.28 621.18,334.80 622.18,334.33 623.18,333.88 624.18,333.44 625.18,333.01 626.19,332.60 627.19,332.20 628.19,331.82 629.19,331.44 630.19,331.08 631.19,330.73 632.19,330.39 633.19,330.06 634.19,329.74 635.19,329.44 636.20,329.14 637.20,328.86 638.20,328.58 639.20,328.32 640.20,328.06 641.20,327.82 642.20,327.58 643.20,327.35 644.20,327.14 645.20,326.93 646.21,326.73 647.21,326.54 648.21,326.36 649.21,326.18 650.21,326.02 651.21,325.86 652.21,325.71 653.21,325.57 654.21,325.43 655.21,325.30 656.22,325.18 657.22,325.07 658.22,324.96 659.22,324.86 660.22,324.77 661.22,324.68 662.22,324.60 663.22,324.52 664.22,324.45 665.22,324.38 666.23,324.32 667.23,324.27 668.23,324.22 669.23,324.17 670.23,324.13 671.23,324.09 672.23,324.06 673.23,324.03 674.23,324.01 675.23,323.99 676.24,323.97 677.24,323.96 678.24,323.94 679.24,323.94 680.24,323.93 681.24,323.93 682.24,323.93 683.24,323.93 684.24,323.93 685.24,323.94 686.25,323.94 687.25,323.95 688.25,323.96 689.25,323.97 690.25,323.99 691.25,324.00 692.25,324.01 693.25,324.03 694.25,324.04 695.25,324.05 696.26,324.07 697.26,324.08 698.26,324.09 699.26,324.11 700.26,324.12 701.26,324.13 702.26,324.14 703.26,324.15 704.26,324.15 705.26,324.16 706.27,324.16 707.27,324.16 708.27,324.16 709.27,324.15 710.27,324.15 711.27,324.14 712.27,324.12 713.27,324.11 714.27,324.09 715.27,324.07 716.28,324.04 717.28,324.01 718.28,323.98 719.28,323.94 720.28,323.89 721.28,323.85 722.28,323.79 723.28,323.74 724.28,323.67 725.28,323.61 726.29,323.53 727.29,323.45 728.29,323.37 729.29,323.28 730.29,323.18 731.29,323.08 732.29,322.97 733.29,322.85 734.29,322.73 735.29,322.59 736.30,322.46 737.30,322.31 738.30,322.16 739.30,322.00 740.30,321.83" fill="none" stroke="#FF0000" stroke-width="1.1" stroke-linejoin="round" stroke-linecap="butt" />
<circle cx="441.00" cy="523.20" r="4.3" fill="#FF0000"/>
<circle cx="465.80" cy="522.90" r="4.3" fill="#FF0000"/>
<circle cx="490.40" cy="519.80" r="4.3" fill="#FF0000"/>
<circle cx="515.20" cy="511.10" r="4.3" fill="#FF0000"/>
<circle cx="539.90" cy="446.30" r="4.3" fill="#FF0000"/>
<circle cx="565.40" cy="395.00" r="4.3" fill="#FF0000"/>
<circle cx="590.40" cy="371.10" r="4.3" fill="#FF0000"/>
<circle cx="614.80" cy="334.90" r="4.3" fill="#FF0000"/>
<circle cx="641.00" cy="326.90" r="4.3" fill="#FF0000"/>
<circle cx="666.00" cy="315.50" r="4.3" fill="#FF0000"/>
<circle cx="690.10" cy="328.70" r="4.3" fill="#FF0000"/>
<circle cx="714.60" cy="324.20" r="4.3" fill="#FF0000"/>
<circle cx="740.80" cy="325.70" r="4.3" fill="#FF0000"/>
<rect x="598.5" y="451.5" width="134" height="64.5" fill="#fff" stroke="#262626" stroke-width="1"/>
<circle cx="622.40" cy="465.70" r="3.4" fill="#FF0000"/>
<line x1="606.30" y1="484.30" x2="640.60" y2="484.30" stroke="#FF0000" stroke-width="1.1" />
<line x1="606.30" y1="502.70" x2="640.60" y2="502.70" stroke="#7E2F8E" stroke-width="4.4" />
<text x="643.54" y="468.20" font-size="15.3" text-anchor="start" fill="#1a1a1a" stroke="#1a1a1a" stroke-width="0.3" >Mechanical</text>
<text x="643.54" y="486.00" font-size="15.3" text-anchor="start" fill="#1a1a1a" stroke="#1a1a1a" stroke-width="0.3" >Fit</text>
<text x="643.54" y="504.20" font-size="15.3" text-anchor="start" fill="#1a1a1a" stroke="#1a1a1a" stroke-width="0.3" >Magnetism</text>
</svg></body></html>
